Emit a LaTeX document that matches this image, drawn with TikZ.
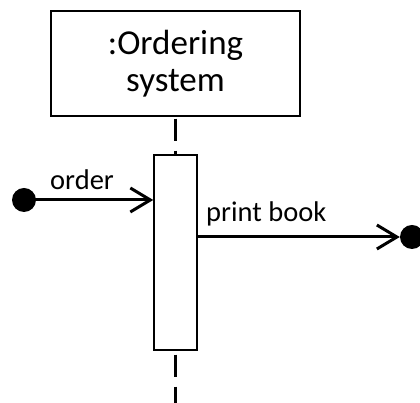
\documentclass[tikz,border=0pt]{standalone}
\usepackage{fontspec}
\setmainfont{Carlito}
\usetikzlibrary{arrows.meta, positioning, calc}

\begin{document}
\begin{tikzpicture}[
  x=1pt, y=1pt,
  objbox/.style={rectangle, draw=black, line width=1.5pt, minimum width=249pt, minimum height=105pt, align=center, font=\fontsize{35}{37}\selectfont},
  actbox/.style={rectangle, draw=black, line width=1.5pt, fill=white, minimum width=43pt, minimum height=195pt},
  enddot/.style={circle, fill=black, inner sep=0pt, minimum size=24pt},
  msg/.style={-{Straight Barb[length=20pt, width=24pt, line width=3pt]}, line width=3pt},
  lifeline/.style={line width=2.2pt, dash pattern=on 22pt off 10pt},
  msglabel/.style={font=\fontsize{28.5}{30}\selectfont, inner sep=0pt}
]
  \useasboundingbox (0,0) rectangle (420,403);

  % Object and activation
  \node[objbox] (obj) at (175.5,339.5) {:Ordering\\system};
  \node[actbox] (act) at (175.5,150.5) {};
  \coordinate (bottom) at (175.5,0);

  % Lifeline
  \draw[lifeline] ([yshift=-2pt]obj.south) -- (act.north);
  \draw[lifeline] ([yshift=-4pt]act.south) -- (bottom);

  % Found / lost message ends
  \node[enddot] (found) at (24,203) {};
  \node[enddot] (lost) at (412,166) {};

  % Messages
  \draw[msg] (found.center) -- (act.west |- found.center);
  \draw[msg] (act.east |- lost.center) -- (lost.west);

  % Labels
  \node[msglabel, anchor=base west] (orderlbl) at (50,213) {order};
  \node[msglabel, anchor=base west] (printlbl) at (206,181) {print book};
\end{tikzpicture}
\end{document}
